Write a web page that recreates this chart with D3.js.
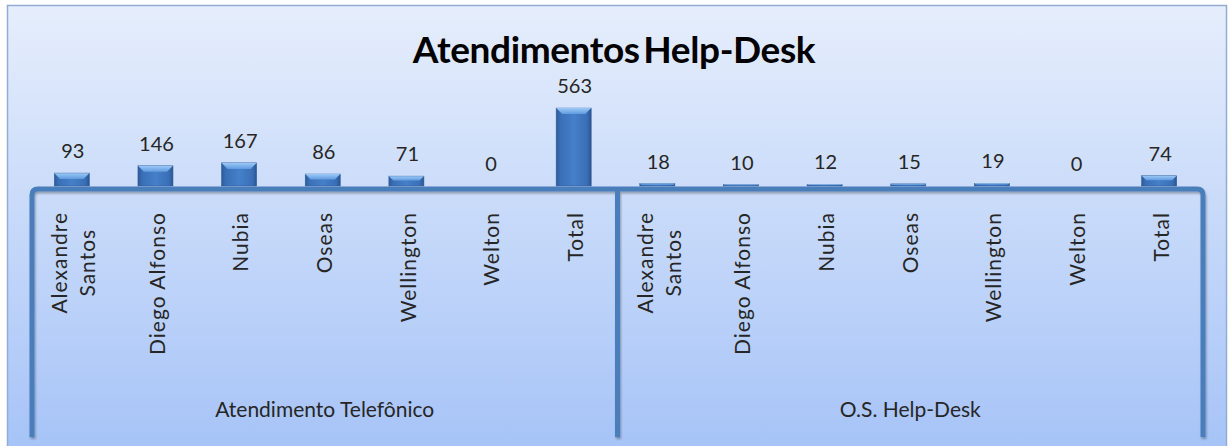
<!DOCTYPE html>
<html>
<head>
<meta charset="utf-8">
<script src="https://cdn.jsdelivr.net/npm/d3@7/dist/d3.min.js"></script>
<style>
  html, body { margin: 0; padding: 0; background: #ffffff; }
  svg { display: block; }
</style>
</head>
<body>
<svg id="chart" width="1230" height="446"></svg>
<script>
// ---- data ----
const title = "Atendimentos Help-Desk";
const groups = ["Atendimento Telefônico", "O.S. Help-Desk"];
const categories = ["Alexandre Santos", "Diego Alfonso", "Nubia", "Oseas", "Wellington", "Welton", "Total"];
const telefonicoValues = [93, 146, 167, 86, 71, 0, 563];
const osHelpDeskValues = [18, 10, 12, 15, 19, 0, 74];
const seriesByGroup = [telefonicoValues, osHelpDeskValues];

// ---- layout ----
const axisY = 189, plotTop = 103, axisLeft = 32, axisRight = 1203, lineBottom = 437;
const font = "Lato, 'Open Sans', sans-serif";
const textColor = "#262626";
const lineColor = "#4a7ebb";

const svg = d3.select("#chart");
const defs = svg.append("defs");

const bg = defs.append("linearGradient").attr("id", "bg").attr("x1", 0).attr("y1", 0).attr("x2", 0).attr("y2", 1);
bg.append("stop").attr("offset", "0%").attr("stop-color", "#e6eefc");
bg.append("stop").attr("offset", "100%").attr("stop-color", "#a4c2f7");

const barGrad = defs.append("linearGradient").attr("id", "barGrad").attr("x1", 0).attr("y1", 0).attr("x2", 1).attr("y2", 0);
barGrad.append("stop").attr("offset", "0%").attr("stop-color", "#2d5a98");
barGrad.append("stop").attr("offset", "12%").attr("stop-color", "#3a6fb6");
barGrad.append("stop").attr("offset", "50%").attr("stop-color", "#4580c8");
barGrad.append("stop").attr("offset", "88%").attr("stop-color", "#3a6fb6");
barGrad.append("stop").attr("offset", "100%").attr("stop-color", "#2a5590");

const topGrad = defs.append("linearGradient").attr("id", "topGrad").attr("x1", 0).attr("y1", 0).attr("x2", 0).attr("y2", 1);
topGrad.append("stop").attr("offset", "0%").attr("stop-color", "#9cc8f6");
topGrad.append("stop").attr("offset", "100%").attr("stop-color", "#5f9be0");

const shadow = defs.append("filter").attr("id", "shadow").attr("x", "-5%").attr("y", "-5%").attr("width", "110%").attr("height", "110%");
shadow.append("feDropShadow").attr("dx", 1).attr("dy", 2).attr("stdDeviation", 1.2)
  .attr("flood-color", "#000").attr("flood-opacity", 0.3);

// background
svg.append("rect").attr("x", 7.5).attr("y", 5.5).attr("width", 1219).attr("height", 460)
  .attr("fill", "url(#bg)").attr("stroke", "#93acd3").attr("stroke-width", 1.5);

// title
svg.append("text").attr("x", 614).attr("y", 63).attr("text-anchor", "middle")
  .attr("font-family", font).attr("font-weight", 700).attr("font-size", 37)
  .attr("letter-spacing", -0.4).attr("word-spacing", -5)
  .attr("fill", "#000").text(title);

// scales
const flat = [];
groups.forEach((g, gi) => categories.forEach((c, ci) => flat.push({ key: gi + "|" + ci, group: g, cat: c, value: seriesByGroup[gi][ci] })));
const x = d3.scaleBand().domain(flat.map(d => d.key)).range([axisLeft, axisRight]).padding(0);
const xGroup = d3.scaleBand().domain(groups).range([axisLeft, axisRight]).padding(0);
const y = d3.scaleLinear().domain([0, 600]).range([axisY - 3, plotTop]);

const barW = 35;
const bars = svg.append("g");
flat.forEach(d => {
  const cx = x(d.key) + x.bandwidth() / 2 - 2;
  const top = y(d.value), base = y(0);
  const h = base - top;
  if (h > 0) {
    bars.append("rect").attr("x", cx - barW / 2).attr("y", top).attr("width", barW).attr("height", h)
      .attr("fill", "url(#barGrad)").attr("stroke", "#2f5d9a").attr("stroke-width", 0.6);
    const b = Math.min(6, h * 0.45);
    bars.append("path")
      .attr("d", `M${cx - barW / 2},${top} L${cx + barW / 2},${top} L${cx + barW / 2 - b},${top + b} L${cx - barW / 2 + b},${top + b} Z`)
      .attr("fill", "url(#topGrad)");
  }
  svg.append("text").attr("x", cx + 1).attr("y", top - 15).attr("text-anchor", "middle")
    .attr("font-family", font).attr("font-size", 20).attr("fill", textColor).text(d.value);
});

// axis lines
const lines = svg.append("g").attr("filter", "url(#shadow)").attr("fill", "none")
  .attr("stroke", lineColor).attr("stroke-width", 5);
const r = 6;
lines.append("path").attr("d",
  `M${axisLeft},${lineBottom} L${axisLeft},${axisY + r} Q${axisLeft},${axisY} ${axisLeft + r},${axisY} ` +
  `L${axisRight - r},${axisY} Q${axisRight},${axisY} ${axisRight},${axisY + r} L${axisRight},${lineBottom}`);
groups.slice(1).forEach(g => {
  lines.append("line").attr("x1", xGroup(g)).attr("x2", xGroup(g)).attr("y1", axisY).attr("y2", lineBottom);
});

// category labels (rotated)
const labelTop = 212, lineGap = 28, maxLine = 160;
const catG = svg.append("g").attr("font-family", font).attr("font-size", 21)
  .attr("letter-spacing", 1).attr("fill", textColor);
flat.forEach(d => {
  const cx = x(d.key) + x.bandwidth() / 2;
  const t = catG.append("text").attr("text-anchor", "middle");
  t.text(d.cat);
  let linesTxt = [d.cat];
  if (t.node().getComputedTextLength() > maxLine) linesTxt = d.cat.split(" ");
  t.text(null);
  const spans = linesTxt.map(s => t.append("tspan").text(s));
  const maxLen = d3.max(spans, s => s.node().getComputedTextLength());
  const midY = labelTop + maxLen / 2;
  t.attr("transform", `translate(${cx},${midY}) rotate(-90)`);
  const n = linesTxt.length;
  spans.forEach((s, i) => s.attr("x", 0).attr("y", (i - (n - 1) / 2) * lineGap).attr("dy", "0.35em"));
});

// group labels
svg.append("g").selectAll("text").data(groups).join("text")
  .attr("x", g => xGroup(g) + xGroup.bandwidth() / 2).attr("y", 417).attr("text-anchor", "middle")
  .attr("font-family", font).attr("font-size", 21).attr("fill", textColor).text(g => g);
</script>
</body>
</html>
